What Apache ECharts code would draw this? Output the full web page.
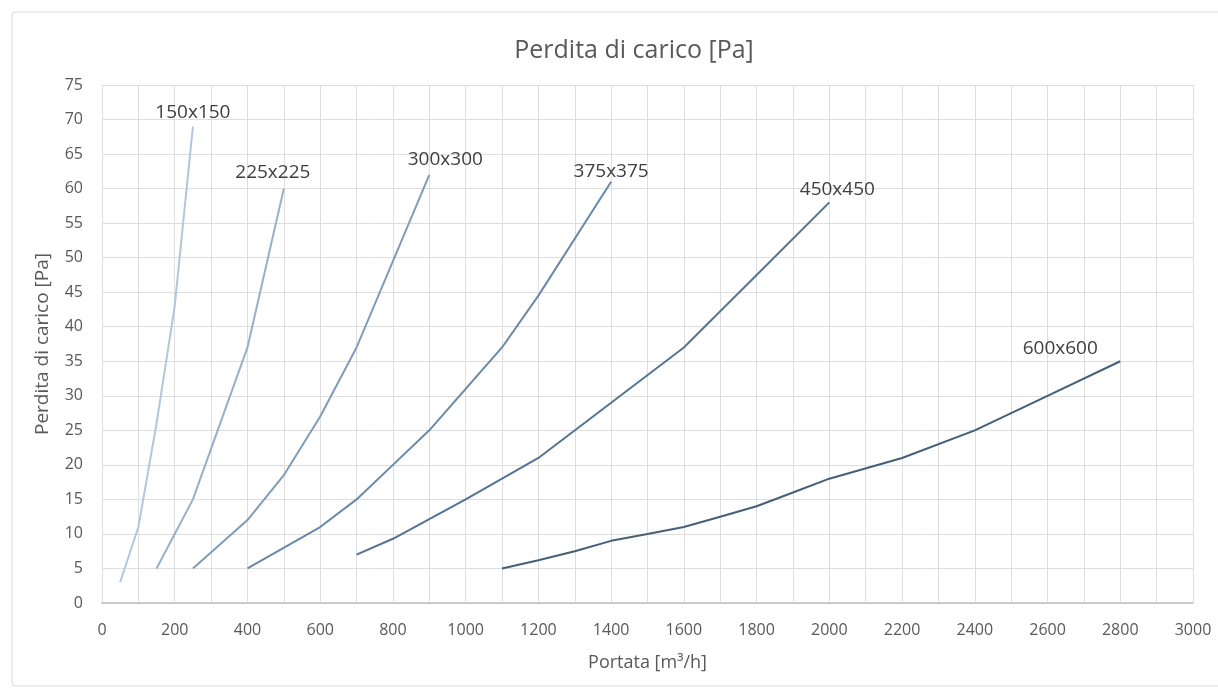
<!DOCTYPE html>
<html>
<head>
<meta charset="utf-8">
<script src="https://cdn.jsdelivr.net/npm/echarts@6/dist/echarts.min.js"></script>
<style>
html,body{margin:0;padding:0;background:#fff;}
#chart{width:1218px;height:691px;}
</style>
</head>
<body>
<div id="chart"></div>
<script>
// Data (x = Portata [m3/h], y = Perdita di carico [Pa])
const seriesNames = ['150x150', '225x225', '300x300', '375x375', '450x450', '600x600'];
const x150 = [50, 100, 150, 200, 250];
const y150 = [3, 11, 26, 43, 69];
const x225 = [150, 250, 400, 500];
const y225 = [5, 15, 37, 60];
const x300 = [250, 400, 500, 600, 700, 900];
const y300 = [5, 12, 18.5, 27, 37, 62];
const x375 = [400, 600, 700, 800, 900, 1000, 1100, 1200, 1400];
const y375 = [5, 11, 15, 20, 25, 31, 37, 44.5, 61];
const x450 = [700, 800, 1000, 1200, 1400, 1600, 1800, 2000];
const y450 = [7, 9.3, 15, 21, 29, 37, 47.5, 58];
const x600 = [1100, 1200, 1300, 1400, 1500, 1600, 1700, 1800, 1900, 2000, 2200, 2400, 2600, 2800];
const y600 = [5, 6.2, 7.5, 9, 10, 11, 12.5, 14, 16, 18, 21, 25, 30, 35];
const xTicks = [0, 200, 400, 600, 800, 1000, 1200, 1400, 1600, 1800, 2000, 2200, 2400, 2600, 2800, 3000];
const yTicks = [0, 5, 10, 15, 20, 25, 30, 35, 40, 45, 50, 55, 60, 65, 70, 75];

const allX = [x150, x225, x300, x375, x450, x600];
const allY = [y150, y225, y300, y375, y450, y600];
const colors = ['#b3c6dc', '#98afc8', '#809cba', '#6989aa', '#557394', '#445f7a'];
const labelOffsets = [[0, -4], [-11, -7], [16, -6], [0, -1], [8, -3], [-60, -3]];

const chart = echarts.init(document.getElementById('chart'), null, {renderer: 'canvas'});

const series = seriesNames.map((name, i) => {
  const xs = allX[i], ys = allY[i];
  return {
    name: name,
    type: 'line',
    data: xs.map((x, k) => [x, ys[k]]),
    showSymbol: false,
    symbol: 'none',
    smooth: false,
    lineStyle: {color: colors[i], width: 2},
    itemStyle: {color: colors[i]},
    endLabel: {
      show: true,
      formatter: name,
      color: '#404040',
      fontSize: 19,
      fontFamily: 'Open Sans',
      align: 'center',
      verticalAlign: 'bottom',
      distance: 0,
      offset: labelOffsets[i]
    },
    emphasis: {disabled: true},
    animation: false,
    z: 3
  };
});

const txt = '#595959';
chart.setOption({
  backgroundColor: '#ffffff',
  animation: false,
  title: {
    text: 'Perdita di carico [Pa]',
    left: 629,
    top: 33,
    textAlign: 'center',
    textStyle: {color: txt, fontSize: 25, fontWeight: 'normal', fontFamily: 'Open Sans'}
  },
  graphic: [{
    type: 'rect',
    shape: {x: 12, y: 12, width: 1240, height: 674, r: 3},
    style: {fill: 'none', stroke: '#d9d9d9', lineWidth: 1},
    silent: true,
    z: -10
  }],
  grid: {left: 102, right: 25, top: 85, bottom: 88, containLabel: false},
  xAxis: {
    type: 'value',
    min: xTicks[0],
    max: xTicks[xTicks.length - 1],
    interval: xTicks[1] - xTicks[0],
    name: 'Portata [m³/h]',
    nameLocation: 'middle',
    nameGap: 51,
    nameTextStyle: {color: txt, fontSize: 18, fontFamily: 'Open Sans'},
    axisLine: {show: true, lineStyle: {color: '#bfbfbf', width: 1.5}},
    axisTick: {show: false},
    axisLabel: {color: txt, fontSize: 16, margin: 19, fontFamily: 'Open Sans', formatter: v => String(v)},
    splitLine: {show: true, lineStyle: {color: '#dedede', width: 1}},
    minorTick: {show: true, splitNumber: 2, length: 0, lineStyle: {opacity: 0}},
    minorSplitLine: {show: true, lineStyle: {color: '#dedede', width: 1}}
  },
  yAxis: {
    type: 'value',
    min: yTicks[0],
    max: yTicks[yTicks.length - 1],
    interval: yTicks[1] - yTicks[0],
    name: 'Perdita di carico [Pa]',
    nameLocation: 'middle',
    nameGap: 50,
    nameRotate: 90,
    nameTextStyle: {color: txt, fontSize: 19, fontFamily: 'Open Sans'},
    axisLine: {show: false},
    axisTick: {show: false},
    axisLabel: {color: txt, fontSize: 16, margin: 19, fontFamily: 'Open Sans', formatter: v => String(v)},
    splitLine: {show: true, lineStyle: {color: '#dedede', width: 1}}
  },
  series: series
});
</script>
</body>
</html>
